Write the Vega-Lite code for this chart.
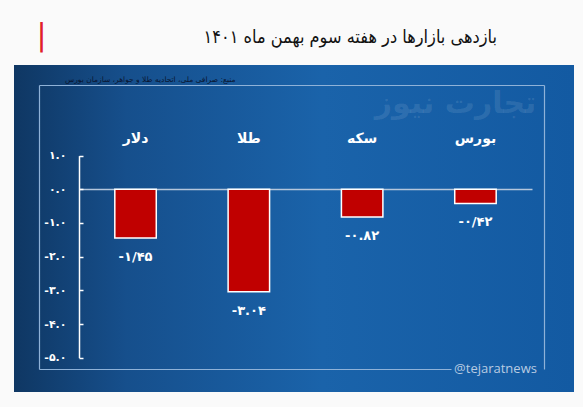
{
  "$schema": "https://vega.github.io/schema/vega-lite/v6.json",
  "width": 560,
  "height": 327,
  "autosize": {"type": "none"},
  "padding": {"left": 14, "top": 65, "right": 9, "bottom": 15},
  "background": "#fafafa",
  "view": {
    "stroke": null,
    "fill": {
      "gradient": "linear", "x1": 0, "y1": 0, "x2": 1, "y2": 0,
      "stops": [
        {"offset": 0, "color": "#0f3763"},
        {"offset": 0.2, "color": "#164f8c"},
        {"offset": 0.55, "color": "#1a63aa"},
        {"offset": 1, "color": "#135aa2"}
      ]
    }
  },
  "title": {
    "text": "بازدهی بازارها در هفته سوم بهمن ماه  ۱۴۰۱",
    "anchor": "end",
    "frame": "group",
    "dx": -77,
    "dy": 27,
    "offset": 0,
    "fontSize": 18,
    "fontWeight": "normal",
    "color": "#111111",
    "font": "DejaVu Sans Condensed, DejaVu Sans"
  },
  "data": {
    "values": [
      {"cat": "دلار", "value": -1.45, "label": "-۱/۴۵"},
      {"cat": "طلا", "value": -3.04, "label": "-۳.۰۴"},
      {"cat": "سکه", "value": -0.82, "label": "-۰.۸۲"},
      {"cat": "بورس", "value": -0.42, "label": "-۰/۴۲"}
    ]
  },
  "layer": [
    {
      "data": {"values": [{}]},
      "mark": {"type": "point", "opacity": 0},
      "encoding": {
        "x": {"datum": 0, "type": "quantitative",
          "scale": {"domain": [0, 1], "range": [25, 530]},
          "axis": {"orient": "top", "offset": -20, "labels": false, "ticks": false, "grid": false, "domain": true, "domainColor": "#8fb2d8", "domainWidth": 1.2,
            "title": "تجارت نیوز", "titleX": 441, "titleY": 18, "titleAlign": "center", "titleBaseline": "middle",
            "titleFontSize": 30, "titleFontWeight": "bold", "titleColor": "#ffffff", "titleOpacity": 0.1, "titleFont": "DejaVu Sans"}},
        "y": {"datum": 0, "type": "quantitative",
          "scale": {"domain": [0, 1], "range": [304, 20]},
          "axis": {"orient": "left", "offset": -25, "labels": false, "ticks": false, "grid": false, "title": null, "domain": true, "domainColor": "#8fb2d8", "domainWidth": 1.2}}
      }
    },
    {
      "data": {"values": [{}]},
      "mark": {"type": "point", "opacity": 0},
      "encoding": {
        "x": {"datum": 0, "type": "quantitative",
          "scale": {"domain": [0, 1], "range": [25, 437]},
          "axis": {"orient": "bottom", "offset": -23, "labels": false, "ticks": false, "grid": false, "domain": true, "domainColor": "#8fb2d8", "domainWidth": 1.2,
            "title": "@tejaratnews", "titleX": 481, "titleY": -1, "titleAlign": "center", "titleBaseline": "middle",
            "titleFontSize": 13, "titleFontWeight": "normal", "titleColor": "#b8cbe2", "titleFont": "Open Sans"}},
        "y": {"datum": 0, "type": "quantitative",
          "scale": {"domain": [0, 1], "range": [304, 20]},
          "axis": {"orient": "right", "offset": -30, "labels": false, "ticks": false, "grid": false, "title": null, "domain": true, "domainColor": "#8fb2d8", "domainWidth": 1.2}}
      }
    },
    {
      "encoding": {
        "x": {
          "field": "cat", "type": "nominal",
          "scale": {"domain": ["دلار", "طلا", "سکه", "بورس"], "range": [65, 518], "paddingInner": 0.634, "paddingOuter": 0.316, "align": 0.5},
          "axis": {
            "orient": "top", "offset": -80, "domain": false, "ticks": false, "labelPadding": 0,
            "labelAngle": 0, "labelColor": "#ffffff", "labelFontSize": 14, "labelFontWeight": "bold", "labelFont": "DejaVu Sans",
            "title": "منبع: صرافی ملی، اتحادیه طلا و جواهر، سازمان بورس",
            "titleX": 221, "titleY": -66, "titleAlign": "right", "titleBaseline": "middle",
            "titleFontSize": 7.5, "titleFontWeight": "normal", "titleColor": "#0a1530", "titleFont": "DejaVu Sans"
          }
        },
        "y": {
          "field": "value", "type": "quantitative",
          "scale": {"domain": [-5, 1], "range": [292.7, 90.6], "nice": false, "zero": false},
          "axis": {
            "orient": "left", "offset": -65, "values": [1, 0, -1, -2, -3, -4, -5],
            "labelExpr": "datum.value == 1 ? '۱.۰' : datum.value == 0 ? '۰.۰' : datum.value == -1 ? '-۱.۰' : datum.value == -2 ? '-۲.۰' : datum.value == -3 ? '-۳.۰' : datum.value == -4 ? '-۴.۰' : '-۵.۰'",
            "labelColor": "#ffffff", "labelFontSize": 11, "labelFontWeight": "bold", "labelFont": "DejaVu Sans", "labelPadding": 17,
            "domain": true, "domainColor": "#ffffff", "domainWidth": 1.5,
            "ticks": true, "tickSize": -4, "tickColor": "#ffffff", "tickWidth": 1.5,
            "grid": true, "gridWidth": 1.5,
            "gridColor": {"condition": {"test": "datum.value === 0", "value": "#b4c6dc"}, "value": "rgba(0,0,0,0)"},
            "title": "|", "titleAngle": 0, "titleX": -38, "titleY": -30, "titleAlign": "center", "titleBaseline": "middle",
            "titleFontSize": 30, "titleFontWeight": "normal", "titleColor": "#e0202a", "titleFont": "DejaVu Sans"
          }
        }
      },
      "layer": [
        {
          "mark": {"type": "bar", "color": "#c00000", "stroke": "#ffffff", "strokeWidth": 1.5}
        },
        {
          "mark": {"type": "text", "color": "#ffffff", "fontSize": 13, "fontWeight": "bold", "dy": 19, "font": "DejaVu Sans"},
          "encoding": {"text": {"field": "label"}}
        }
      ]
    }
  ],
  "resolve": {
    "scale": {"x": "independent", "y": "independent"},
    "axis": {"x": "independent", "y": "independent"}
  }
}
